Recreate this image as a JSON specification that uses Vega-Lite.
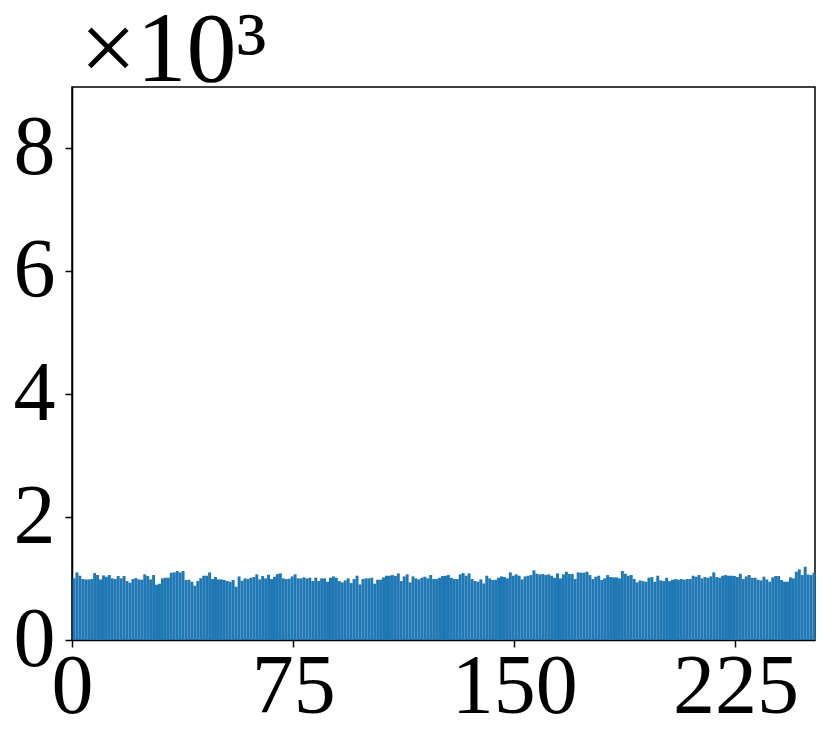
{
  "$schema": "https://vega.github.io/schema/vega-lite/v6.json",
  "width": 743,
  "height": 553,
  "autosize": {"type": "none"},
  "padding": {"left": 72, "top": 87, "right": 16, "bottom": 113},
  "background": "white",
  "title": {
    "text": "×10³",
    "anchor": "start",
    "frame": "group",
    "font": "Liberation Serif",
    "fontSize": 100,
    "fontWeight": "normal",
    "color": "black",
    "baseline": "bottom",
    "offset": -115,
    "dx": 8
  },
  "data": {
    "values": [
      {"bin":0,"count":1003},{"bin":1,"count":1100},{"bin":2,"count":1046},{"bin":3,"count":992},{"bin":4,"count":986},{"bin":5,"count":986},{"bin":6,"count":992},{"bin":7,"count":1089},{"bin":8,"count":1057},{"bin":9,"count":986},
      {"bin":10,"count":1051},{"bin":11,"count":1030},{"bin":12,"count":1057},{"bin":13,"count":1003},{"bin":14,"count":992},{"bin":15,"count":1041},{"bin":16,"count":1003},{"bin":17,"count":1041},{"bin":18,"count":959},{"bin":19,"count":932},
      {"bin":20,"count":992},{"bin":21,"count":1008},{"bin":22,"count":986},{"bin":23,"count":981},{"bin":24,"count":1068},{"bin":25,"count":1041},{"bin":26,"count":986},{"bin":27,"count":1057},{"bin":28,"count":900},{"bin":29,"count":916},
      {"bin":30,"count":1003},{"bin":31,"count":1013},{"bin":32,"count":1013},{"bin":33,"count":1095},{"bin":34,"count":1100},{"bin":35,"count":1122},{"bin":36,"count":1100},{"bin":37,"count":1122},{"bin":38,"count":976},{"bin":39,"count":981},
      {"bin":40,"count":948},{"bin":41,"count":883},{"bin":42,"count":959},{"bin":43,"count":1003},{"bin":44,"count":1046},{"bin":45,"count":1046},{"bin":46,"count":1100},{"bin":47,"count":992},{"bin":48,"count":1024},{"bin":49,"count":986},
      {"bin":50,"count":986},{"bin":51,"count":976},{"bin":52,"count":959},{"bin":53,"count":948},{"bin":54,"count":976},{"bin":55,"count":867},{"bin":56,"count":1035},{"bin":57,"count":965},{"bin":58,"count":1003},{"bin":59,"count":992},
      {"bin":60,"count":1013},{"bin":61,"count":1024},{"bin":62,"count":1068},{"bin":63,"count":986},{"bin":64,"count":1041},{"bin":65,"count":1003},{"bin":66,"count":1062},{"bin":67,"count":992},{"bin":68,"count":1030},{"bin":69,"count":1073},
      {"bin":70,"count":1084},{"bin":71,"count":1003},{"bin":72,"count":992},{"bin":73,"count":997},{"bin":74,"count":1035},{"bin":75,"count":1068},{"bin":76,"count":1003},{"bin":77,"count":1003},{"bin":78,"count":1019},{"bin":79,"count":1003},
      {"bin":80,"count":1013},{"bin":81,"count":959},{"bin":82,"count":1013},{"bin":83,"count":959},{"bin":84,"count":1003},{"bin":85,"count":1003},{"bin":86,"count":948},{"bin":87,"count":1013},{"bin":88,"count":1035},{"bin":89,"count":1013},
      {"bin":90,"count":959},{"bin":91,"count":938},{"bin":92,"count":970},{"bin":93,"count":1003},{"bin":94,"count":927},{"bin":95,"count":992},{"bin":96,"count":1046},{"bin":97,"count":905},{"bin":98,"count":992},{"bin":99,"count":1003},
      {"bin":100,"count":1003},{"bin":101,"count":1013},{"bin":102,"count":916},{"bin":103,"count":981},{"bin":104,"count":981},{"bin":105,"count":1019},{"bin":106,"count":1046},{"bin":107,"count":1046},{"bin":108,"count":1057},{"bin":109,"count":1041},
      {"bin":110,"count":1084},{"bin":111,"count":959},{"bin":112,"count":1035},{"bin":113,"count":1068},{"bin":114,"count":938},{"bin":115,"count":1035},{"bin":116,"count":1003},{"bin":117,"count":986},{"bin":118,"count":1013},{"bin":119,"count":1030},
      {"bin":120,"count":1003},{"bin":121,"count":1057},{"bin":122,"count":992},{"bin":123,"count":992},{"bin":124,"count":1013},{"bin":125,"count":1041},{"bin":126,"count":1046},{"bin":127,"count":1057},{"bin":128,"count":1013},{"bin":129,"count":992},
      {"bin":130,"count":992},{"bin":131,"count":1068},{"bin":132,"count":1089},{"bin":133,"count":1046},{"bin":134,"count":1084},{"bin":135,"count":992},{"bin":136,"count":959},{"bin":137,"count":948},{"bin":138,"count":986},{"bin":139,"count":921},
      {"bin":140,"count":1046},{"bin":141,"count":1003},{"bin":142,"count":976},{"bin":143,"count":981},{"bin":144,"count":1013},{"bin":145,"count":1035},{"bin":146,"count":1024},{"bin":147,"count":1003},{"bin":148,"count":1100},{"bin":149,"count":1046},
      {"bin":150,"count":1068},{"bin":151,"count":1046},{"bin":152,"count":986},{"bin":153,"count":1035},{"bin":154,"count":1046},{"bin":155,"count":1057},{"bin":156,"count":1133},{"bin":157,"count":1078},{"bin":158,"count":1068},{"bin":159,"count":1073},
      {"bin":160,"count":1057},{"bin":161,"count":1068},{"bin":162,"count":1046},{"bin":163,"count":1013},{"bin":164,"count":1084},{"bin":165,"count":1003},{"bin":166,"count":1068},{"bin":167,"count":1111},{"bin":168,"count":1073},{"bin":169,"count":1073},
      {"bin":170,"count":992},{"bin":171,"count":1100},{"bin":172,"count":1095},{"bin":173,"count":1095},{"bin":174,"count":1111},{"bin":175,"count":1057},{"bin":176,"count":992},{"bin":177,"count":1030},{"bin":178,"count":1046},{"bin":179,"count":976},
      {"bin":180,"count":1003},{"bin":181,"count":1057},{"bin":182,"count":1024},{"bin":183,"count":1019},{"bin":184,"count":1019},{"bin":185,"count":1003},{"bin":186,"count":1122},{"bin":187,"count":1078},{"bin":188,"count":1046},{"bin":189,"count":1057},
      {"bin":190,"count":992},{"bin":191,"count":938},{"bin":192,"count":970},{"bin":193,"count":959},{"bin":194,"count":948},{"bin":195,"count":1013},{"bin":196,"count":1024},{"bin":197,"count":948},{"bin":198,"count":1046},{"bin":199,"count":970},
      {"bin":200,"count":959},{"bin":201,"count":1013},{"bin":202,"count":959},{"bin":203,"count":981},{"bin":204,"count":992},{"bin":205,"count":981},{"bin":206,"count":992},{"bin":207,"count":981},{"bin":208,"count":992},{"bin":209,"count":992},
      {"bin":210,"count":1046},{"bin":211,"count":1030},{"bin":212,"count":1057},{"bin":213,"count":1003},{"bin":214,"count":1024},{"bin":215,"count":1013},{"bin":216,"count":1035},{"bin":217,"count":1100},{"bin":218,"count":1024},{"bin":219,"count":1013},
      {"bin":220,"count":1046},{"bin":221,"count":1057},{"bin":222,"count":1046},{"bin":223,"count":1046},{"bin":224,"count":1041},{"bin":225,"count":1024},{"bin":226,"count":1078},{"bin":227,"count":992},{"bin":228,"count":1035},{"bin":229,"count":1057},
      {"bin":230,"count":1013},{"bin":231,"count":1013},{"bin":232,"count":981},{"bin":233,"count":970},{"bin":234,"count":1030},{"bin":235,"count":986},{"bin":236,"count":949},{"bin":237,"count":1019},{"bin":238,"count":1041},{"bin":239,"count":1041},
      {"bin":240,"count":976},{"bin":241,"count":949},{"bin":242,"count":949},{"bin":243,"count":1019},{"bin":244,"count":1003},{"bin":245,"count":1111},{"bin":246,"count":1149},{"bin":247,"count":1057},{"bin":248,"count":1192},{"bin":249,"count":1065},
      {"bin":250,"count":1057},{"bin":251,"count":1095}
    ]
  },
  "mark": {"type": "bar", "color": "#1f77b4", "binSpacing": 0},
  "encoding": {
    "x": {
      "field": "bin",
      "type": "quantitative",
      "bin": {"binned": true, "step": 1},
      "scale": {"domain": [0, 252], "nice": false, "zero": false},
      "axis": {
        "title": null,
        "values": [0, 75, 150, 225],
        "grid": false,
        "labelFont": "Liberation Serif",
        "labelFontSize": 84,
        "labelColor": "black",
        "labelPadding": -1,
        "labelFlush": false,
        "labelOverlap": false,
        "tickColor": "black",
        "tickSize": 7,
        "tickWidth": 1.5,
        "domainColor": "black",
        "domainWidth": 1.5
      }
    },
    "y": {
      "field": "count",
      "type": "quantitative",
      "scale": {"domain": [0, 9000], "nice": false},
      "axis": {
        "title": null,
        "values": [0, 2000, 4000, 6000, 8000],
        "labelExpr": "datum.value / 1000",
        "grid": false,
        "labelFont": "Liberation Serif",
        "labelFontSize": 84,
        "labelColor": "black",
        "labelPadding": 10,
        "labelFlush": false,
        "labelOverlap": false,
        "tickColor": "black",
        "tickSize": 7,
        "tickWidth": 1.5,
        "domainColor": "black",
        "domainWidth": 1.5
      }
    }
  },
  "config": {
    "view": {"stroke": "black", "strokeWidth": 1.5}
  }
}
